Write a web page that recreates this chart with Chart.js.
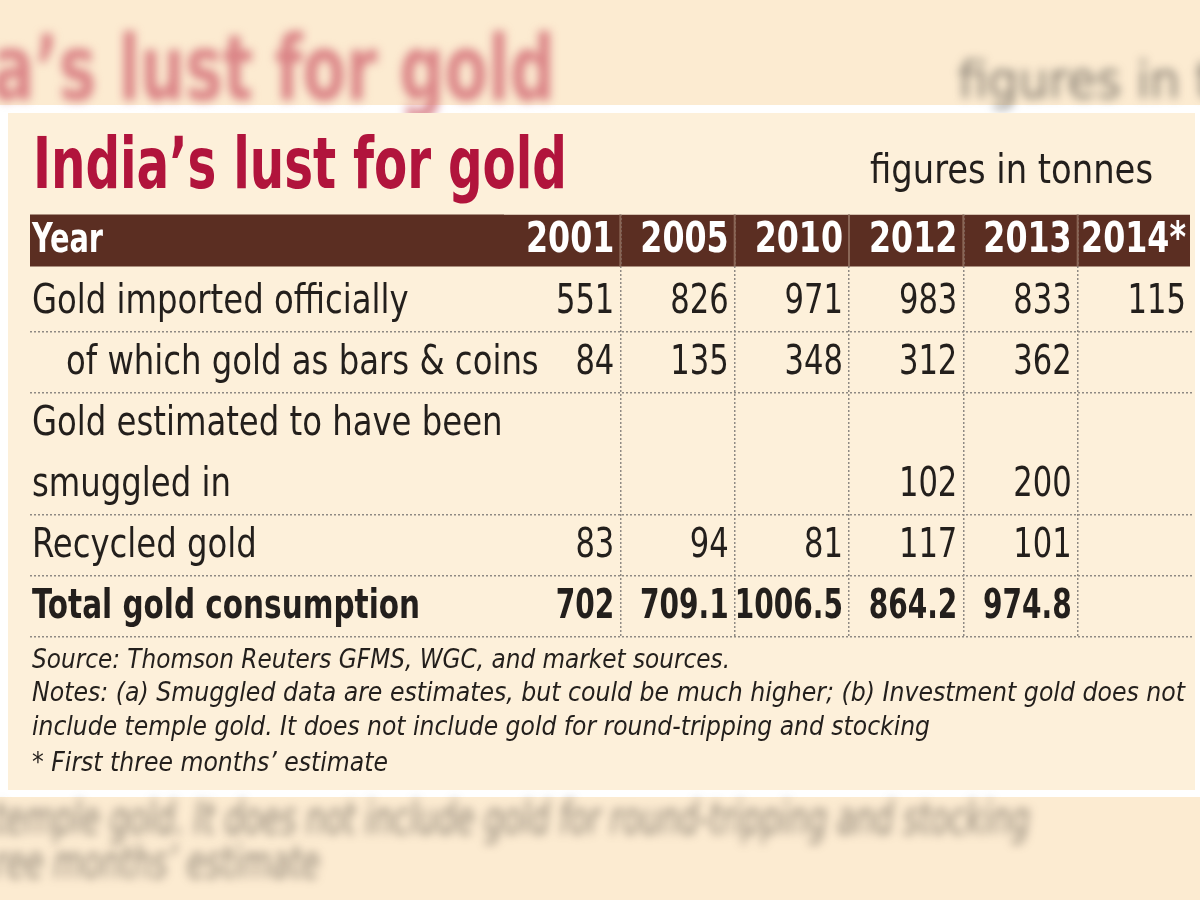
<!DOCTYPE html>
<html>
<head>
<meta charset="utf-8">
<script src="https://cdn.jsdelivr.net/npm/chart.js@4.4.1/dist/chart.umd.min.js"></script>
<style>
html,body{margin:0;padding:0;background:#ffffff;}
canvas{display:block;}
</style>
</head>
<body>
<canvas id="c" width="1200" height="900"></canvas>
<script>
// ---------- data ----------
const titleText = "India\u2019s lust for gold";
const unitNote = "figures in tonnes";
const years = ["2001", "2005", "2010", "2012", "2013", "2014*"];
const rowLabels = [
  "Year",
  "Gold imported officially",
  "of which gold as bars & coins",
  "Gold estimated to have been",
  "smuggled in",
  "Recycled gold",
  "Total gold consumption"
];
const importedOfficially = [551, 826, 971, 983, 833, 115];
const barsAndCoins = [84, 135, 348, 312, 362, null];
const smuggledIn = [null, null, null, 102, 200, null];
const recycledGold = [83, 94, 81, 117, 101, null];
const totalConsumption = [702, 709.1, 1006.5, 864.2, 974.8, null];
const sourceLine = "Source: Thomson Reuters GFMS, WGC, and market sources.";
const notesLine1 = "Notes: (a) Smuggled data are estimates, but could be much higher; (b) Investment gold does not";
const notesLine2 = "include temple gold. It does not include gold for round-tripping and stocking";
const footnote = "* First three months\u2019 estimate";

// ---------- styling ----------
const FONT = "'Liberation Sans Narrow', 'DejaVu Sans Condensed', 'Arial Narrow', sans-serif";
const INK = '#231f1c';
const PANEL = '#fdf0da';
const BAND = '#5b2e22';
const DOT = '#8f8a84';
const CLEAR = 'rgba(0,0,0,0)';

const series = [
  { row: rowLabels[1], values: importedOfficially, bold: false },
  { row: rowLabels[2], values: barsAndCoins, bold: false },
  { row: rowLabels[4], values: smuggledIn, bold: false },
  { row: rowLabels[5], values: recycledGold, bold: false },
  { row: rowLabels[6], values: totalConsumption, bold: true }
];

function fitText(ctx, text, x, y, width, font, color) {
  ctx.save();
  ctx.font = font;
  ctx.fillStyle = color;
  ctx.textAlign = 'left';
  ctx.textBaseline = 'alphabetic';
  const w = ctx.measureText(text).width;
  ctx.translate(x, y);
  ctx.scale(width / w, 1);
  ctx.fillText(text, 0, 0);
  ctx.restore();
}

function condensed(ctx, text, x, y, factor, font, color, align) {
  ctx.save();
  ctx.font = font;
  ctx.fillStyle = color;
  ctx.textAlign = align;
  ctx.textBaseline = 'middle';
  ctx.translate(x, y);
  ctx.scale(factor, 1);
  ctx.fillText(text, 0, 0);
  ctx.restore();
}

const hiddenRowLines = [0, 1, 4];

const tablePainter = {
  id: 'tablePainter',
  beforeDraw(chart) {
    const ctx = chart.ctx;
    const ca = chart.chartArea;
    const ys = chart.scales.y;
    ctx.save();
    ctx.fillStyle = '#ffffff';
    ctx.fillRect(0, 0, 1200, 900);
    // blurred surroundings of the clipping
    ctx.fillStyle = '#fcebd1';
    ctx.fillRect(0, 0, 1200, 105);
    ctx.fillRect(0, 797, 1200, 103);
    ctx.filter = 'blur(5px)';
    fitText(ctx, "a\u2019s lust for gold", -8, 100, 563, 'bold 90px ' + FONT, 'rgba(210,105,115,0.8)');
    fitText(ctx, "figures in tonnes", 958, 98, 400, '52px ' + FONT, 'rgba(80,75,70,0.7)');
    fitText(ctx, "temple gold. It does not include gold for round-tripping and stocking", -6, 834, 1036, 'italic 46px ' + FONT, 'rgba(70,62,55,0.6)');
    fitText(ctx, "ree months\u2019 estimate", -6, 878, 326, 'italic 46px ' + FONT, 'rgba(70,62,55,0.6)');
    ctx.filter = 'none';
    // panel
    ctx.fillStyle = PANEL;
    ctx.fillRect(8, 113, 1187, 677);
    // title & unit
    fitText(ctx, titleText, 33, 188, 534, 'bold 72px ' + FONT, '#b1143c');
    fitText(ctx, unitNote, 870, 183, 283, '40px ' + FONT, INK);
    // header band on the "Year" row
    const yc = ys.getPixelForTick(0);
    ctx.fillStyle = BAND;
    ctx.fillRect(30, yc - 26, ca.right - 32, 52);
    // notes
    fitText(ctx, sourceLine, 32, 668, 698, 'italic 26px ' + FONT, INK);
    fitText(ctx, notesLine1, 32, 701, 1153, 'italic 26px ' + FONT, INK);
    fitText(ctx, notesLine2, 32, 735, 898, 'italic 26px ' + FONT, INK);
    fitText(ctx, footnote, 32, 771, 356, 'italic 26px ' + FONT, INK);
    ctx.restore();
  },
  afterDatasetsDraw(chart) {
    const ctx = chart.ctx;
    const ca = chart.chartArea;
    const xs = chart.scales.x;
    const ys = chart.scales.y;
    const yc = ys.getPixelForTick(0);
    const half = (xs.getPixelForTick(1) - xs.getPixelForTick(0)) / 2;
    const pad = 6;
    ctx.save();
    // clean strip above the band
    ctx.fillStyle = PANEL;
    ctx.fillRect(ca.left - 2, ca.top - 2, ca.width + 4, (yc - 26) - ca.top + 2);
    // column dividers inside the band
    ctx.strokeStyle = '#8a6656';
    ctx.lineWidth = 2;
    for (let i = 1; i < xs.ticks.length; i++) {
      const xb = (xs.getPixelForTick(i - 1) + xs.getPixelForTick(i)) / 2;
      ctx.beginPath();
      ctx.moveTo(xb, yc - 26);
      ctx.lineTo(xb, yc + 26);
      ctx.stroke();
    }
    // year headers (from the x scale)
    for (let i = 0; i < xs.ticks.length; i++) {
      condensed(ctx, xs.getLabelForValue(i), xs.getPixelForTick(i) + half - pad, yc + 1, 0.84, 'bold 42px ' + FONT, '#ffffff', 'right');
    }
    // row labels (from the y scale)
    for (let i = 0; i < ys.ticks.length; i++) {
      const label = ys.getLabelForValue(i);
      const yy = ys.getPixelForTick(i);
      const bold = (i === 0 || i === rowLabels.length - 1);
      const indent = (i === 2) ? 36 : 2;
      const color = (i === 0) ? '#ffffff' : INK;
      const size = (i === 0) ? 40 : 41;
      condensed(ctx, label, ys.left + indent, yy + 1, bold ? 0.8 : 0.876, (bold ? 'bold ' : '') + size + 'px ' + FONT, color, 'left');
    }
    // cell values
    chart.data.datasets.forEach((ds, di) => {
      const meta = chart.getDatasetMeta(di);
      const font = (ds.bold ? 'bold ' : '') + '41px ' + FONT;
      meta.data.forEach((pt, j) => {
        const raw = ds.data[j];
        condensed(ctx, String(raw.v), pt.x + half - pad, pt.y + 1, ds.bold ? 0.76 : 0.83, font, INK, 'right');
      });
    });
    ctx.restore();
  }
};

const datasets = series.map(s => ({
  label: s.row,
  bold: s.bold,
  data: years.map((yr, i) => (s.values[i] === null ? null : { x: yr, y: s.row, v: s.values[i] })).filter(Boolean),
  showLine: false,
  pointRadius: 0,
  pointHoverRadius: 0
}));

new Chart(document.getElementById('c'), {
  type: 'line',
  data: { labels: years, datasets: datasets },
  plugins: [tablePainter],
  options: {
    responsive: false,
    animation: false,
    events: [],
    devicePixelRatio: 1,
    layout: { padding: { left: 30, right: 8, top: 210, bottom: 263 } },
    plugins: { legend: { display: false }, tooltip: { enabled: false } },
    scales: {
      x: {
        type: 'category',
        position: 'top',
        offset: true,
        ticks: { display: false },
        border: { display: false, dash: [2, 2] },
        grid: {
          offset: true,
          drawTicks: false,
          lineWidth: 1.5,
          color: (c) => (c.type !== 'tick' || c.index === 0) ? CLEAR : DOT
        },
        afterFit: (scale) => { scale.height = 0; }
      },
      y: {
        type: 'category',
        labels: rowLabels,
        offset: true,
        border: { display: false, dash: [2, 2] },
        grid: {
          offset: true,
          drawTicks: true,
          tickLength: 476,
          lineWidth: 1.5,
          tickBorderDash: [2, 2],
          color: (c) => hiddenRowLines.includes(c.index) ? CLEAR : DOT,
          tickColor: (c) => hiddenRowLines.includes(c.index) ? CLEAR : DOT
        },
        ticks: { display: false, autoSkip: false },
        afterFit: (scale) => { scale.width = 476; }
      }
    }
  }
});
</script>
</body>
</html>
